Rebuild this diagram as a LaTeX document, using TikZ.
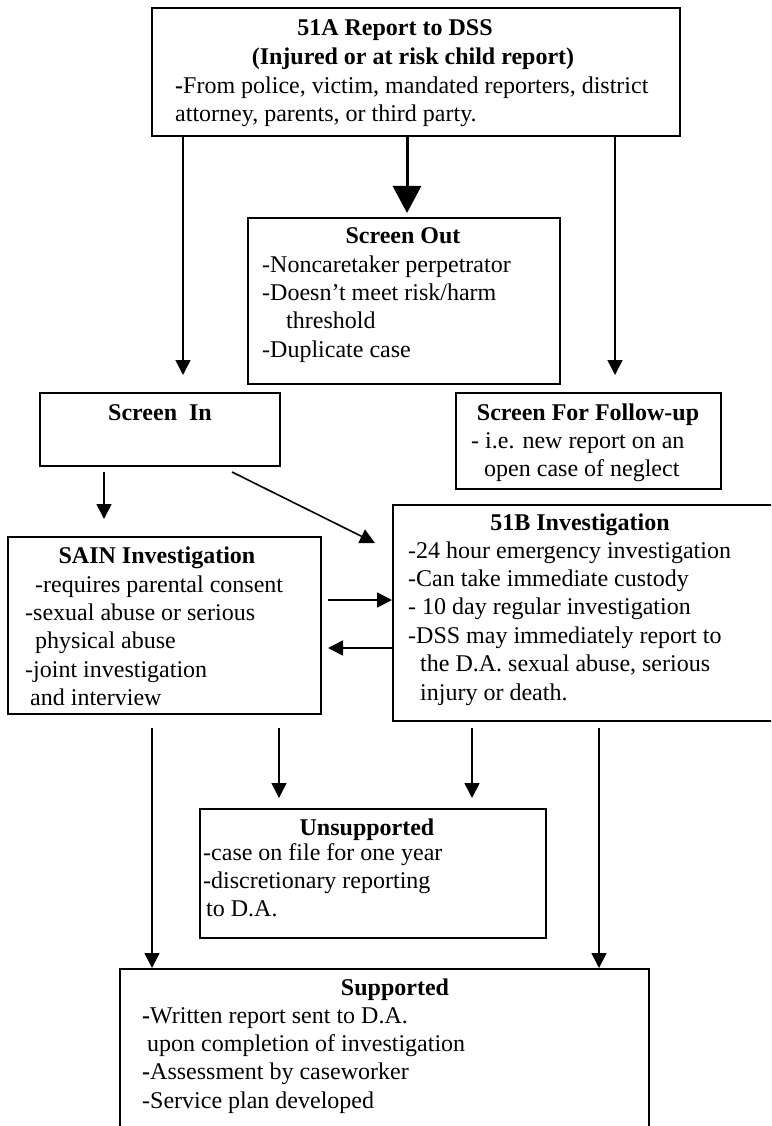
\documentclass[tikz,border=0pt]{standalone}
\usepackage{fontspec}
\setmainfont{Liberation Serif}
\usetikzlibrary{arrows.meta}
\begin{document}
\begin{tikzpicture}[x=1pt,y=-1pt,
  box/.style={draw, line width=1.8pt, inner sep=0pt, anchor=north west},
  ttl/.style={anchor=base, inner sep=0pt, font=\fontsize{24}{28.4}\selectfont\bfseries},
  body/.style={anchor=north west, inner sep=0pt, align=left, font=\fontsize{24}{28.4}\selectfont},
  arr/.style={line width=1.6pt, -{Triangle[width=15pt,length=15pt]}},
  bigarr/.style={line width=3pt, -{Triangle[width=28pt,length=27pt]}}]
\useasboundingbox (0,0) rectangle (771,1126);
\clip (0,0) rectangle (771,1126);
% boxes
\node[box, minimum width=528pt, minimum height=128pt] (rep) at (151,7) {};
\node[box, minimum width=312pt, minimum height=166pt] (out) at (247,217) {};
\node[box, minimum width=240pt, minimum height=73pt] (in) at (39,392) {};
\node[box, minimum width=265pt, minimum height=96pt] (fol) at (455,392) {};
\node[box, minimum width=313pt, minimum height=177pt] (sain) at (7,536) {};
\node[box, minimum width=390pt, minimum height=216pt] (inv) at (392,504) {};
\node[box, minimum width=346pt, minimum height=129pt] (uns) at (199,808) {};
\node[box, minimum width=529pt, minimum height=200pt] (sup) at (119,968) {};
% texts
\node[ttl] (t1) at (395,36) {51A Report to DSS};
\node[ttl] (t2) at (413,65) {(Injured or at risk child report)};
\node[body] (b1) at (175,73.1) {\strut{\bfseries -}From police, victim, mandated reporters, district\\\strut attorney, parents, or third party.};
\node[ttl] (t3) at (403,243) {Screen Out};
\node[body] (b3) at (262,252.1) {\strut -Noncaretaker perpetrator\\\strut -Doesn’t meet risk/harm\\\strut\hspace*{24pt}threshold\\\strut -Duplicate case};
\node[ttl] (t4) at (160,420) {Screen\ \ In};
\node[ttl] (t5) at (588,420) {Screen For Follow-up};
\node[body] (b5) at (471,428.1) {\strut - i.e. new report on an\\\strut\hspace*{13pt}open case of neglect};
\node[ttl] (t6) at (580,530) {51B Investigation};
\node[body] (b6) at (408,538.1) {\strut -24 hour emergency investigation\\\strut -Can take immediate custody\\\strut - 10 day regular investigation\\\strut -DSS may immediately report to\\\strut\hspace*{12pt}the D.A. sexual abuse, serious\\\strut\hspace*{12pt}injury or death.};
\node[ttl] (t7) at (157,563) {SAIN Investigation};
\node[body] (b7) at (25,572.1) {\strut\hspace*{10pt}-requires parental consent\\\strut -sexual abuse or serious\\\strut\hspace*{10pt}physical abuse\\\strut -joint investigation\\\strut\hspace*{5pt}and interview};
\node[ttl] (t8) at (367,835) {Unsupported};
\node[body] (b8) at (203,840.1) {\strut -case on file for one year\\\strut -discretionary reporting\\\strut\hspace*{3pt}to D.A.};
\node[ttl] (t9) at (395,995) {Supported};
\node[body] (b9) at (142,1003.1) {\strut{\bfseries -}Written report sent to D.A.\\\strut\hspace*{5pt}upon completion of investigation\\\strut{\bfseries -}Assessment by caseworker\\\strut -Service plan developed};
% connectors
\coordinate (e1) at (183,375);
\coordinate (e2) at (407,213);
\coordinate (e3) at (615,375);
\coordinate (s4) at (104,472);
\coordinate (e4) at (104,519);
\coordinate (s5) at (232,472);
\coordinate (e5) at (375,543);
\coordinate (s6) at (328,600);
\coordinate (e7) at (328,648);
\coordinate (s8) at (152,728);
\coordinate (s9) at (279,728);
\coordinate (e9) at (279,798);
\coordinate (s10) at (472,728);
\coordinate (e10) at (472,798);
\coordinate (s11) at (599,728);
\draw[arr] (e1 |- rep.south) -- (e1);
\draw[bigarr] (e2 |- rep.south) -- (e2);
\draw[arr] (e3 |- rep.south) -- (e3);
\draw[arr] (s4) -- (e4);
\draw[arr] (s5) -- (e5);
\draw[arr] (s6) -- (s6 -| inv.west);
\draw[arr] (e7 -| inv.west) -- (e7);
\draw[arr] (s8) -- (s8 |- sup.north);
\draw[arr] (s9) -- (e9);
\draw[arr] (s10) -- (e10);
\draw[arr] (s11) -- (s11 |- sup.north);
\end{tikzpicture}
\end{document}
